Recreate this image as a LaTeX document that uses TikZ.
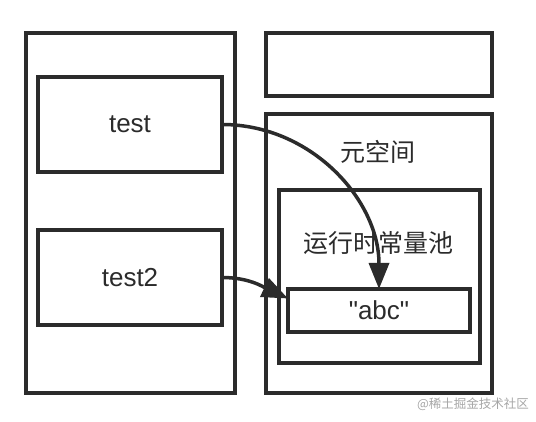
\documentclass[tikz,border=0pt]{standalone}
\usepackage{fontspec}
\setmainfont{Liberation Sans}[Ligatures=TeXOff]
\newfontfamily\cjk{Noto Sans CJK SC}
\usetikzlibrary{arrows.meta}
\definecolor{ink}{HTML}{2B2B2B}

\begin{document}
\begin{tikzpicture}[x=1pt,y=1pt,line width=3.5pt,draw=ink,text=ink,
    >={Triangle[length=26pt,width=20pt]},
    box/.style={draw,rectangle,inner sep=0pt,outer sep=0pt}]
  \useasboundingbox (0,0) rectangle (536,422);

  \node[box,minimum width=209pt,minimum height=360pt] (stack) at (130.5,209) {};
  \node[box,minimum width=184pt,minimum height=95pt,font=\fontsize{26}{30}\selectfont]
      (test) at (130,297.5) {test};
  \node[box,minimum width=184pt,minimum height=95pt,font=\fontsize{26}{30}\selectfont]
      (testb) at (130,144.5) {test2};

  \node[box,minimum width=226pt,minimum height=63pt] (heap) at (379,357.5) {};
  \node[box,minimum width=226pt,minimum height=279pt] (meta) at (379,168.5) {};
  \node[box,minimum width=201pt,minimum height=173pt] (pool) at (379.5,145.5) {};
  \node[box,minimum width=182pt,minimum height=43pt,font=\fontsize{26}{30}\selectfont]
      (abc) at (379,111.5) {"abc"};

  \node[font=\cjk\fontsize{25}{30}\selectfont] (metalabel) at (378,270) {元空间};
  \node[font=\cjk\fontsize{25}{30}\selectfont] (poollabel) at (378,179) {运行时常量池};

  \draw[->] (test.east) to[out=0,in=90] (abc.north);
  \draw[->] (testb.east) to[out=0,in=155] ([yshift=12pt]abc.west);

  \node[text=black!35,font=\cjk\fontsize{12.5}{14}\selectfont] (mark) at (473,18) {@稀土掘金技术社区};
\end{tikzpicture}
\end{document}
